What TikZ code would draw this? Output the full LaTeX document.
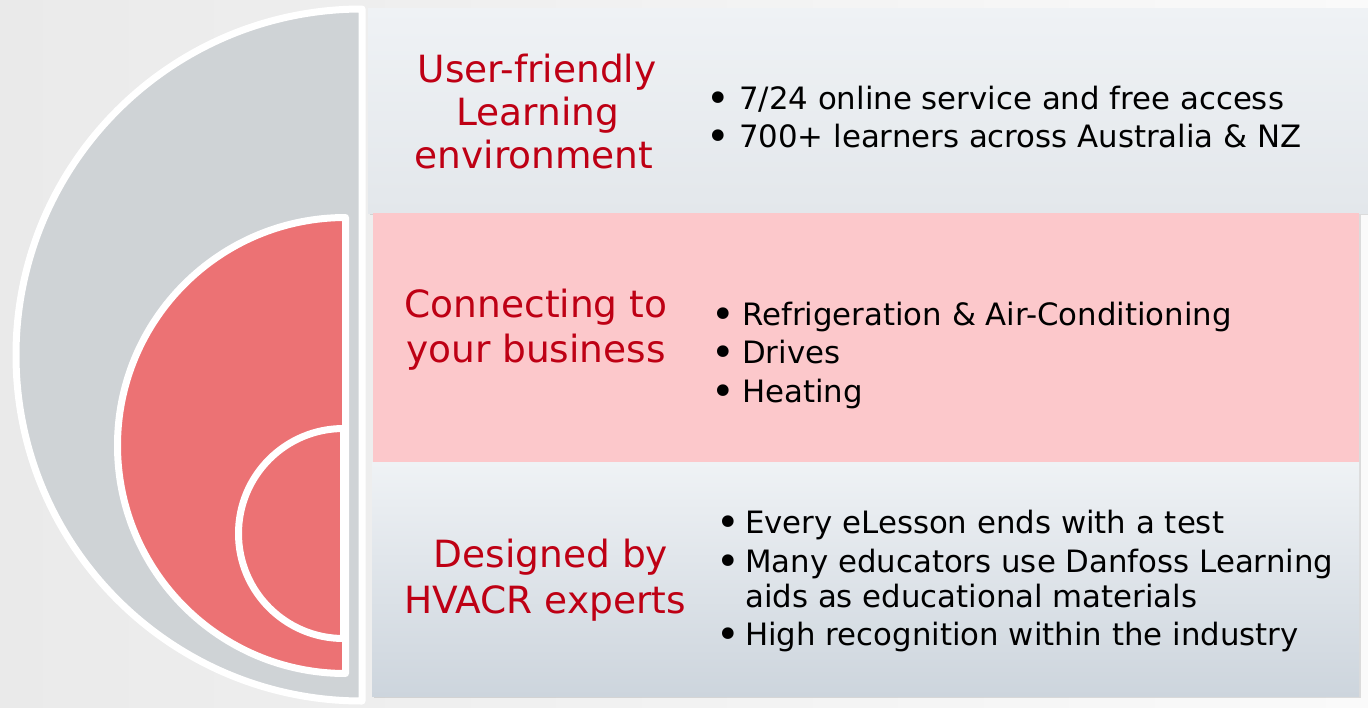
\documentclass[tikz,border=0pt]{standalone}
\usepackage{fontspec}
\setmainfont{DejaVu Sans}
\usetikzlibrary{shadows}
\definecolor{danred}{RGB}{190,0,20}
\definecolor{discgray}{RGB}{207,211,214}
\definecolor{discred}{RGB}{236,114,116}
\definecolor{pinkrow}{RGB}{252,200,203}
\definecolor{rowtop}{RGB}{239,242,245}
\definecolor{rowmid}{RGB}{227,231,235}
\definecolor{rowbot}{RGB}{205,213,221}
\definecolor{bgA}{RGB}{234,234,234}
\definecolor{bgB}{RGB}{250,250,250}
\tikzset{
  halfdisc/.style={draw=white, line width=7pt, line join=round,
    drop shadow={shadow xshift=1.5pt, shadow yshift=-1.5pt, opacity=0.25}},
  panel/.style={drop shadow={shadow xshift=2pt, shadow yshift=-2pt, opacity=0.25}},
  title/.style={text=danred, font=\fontsize{37.5}{43}\selectfont, anchor=base, inner sep=0pt},
  bul/.style={font=\fontsize{40}{40}\selectfont, anchor=base, inner sep=0pt, yshift=-3pt},
  item/.style={font=\fontsize{30.8}{38}\selectfont, anchor=base west, inner sep=0pt}
}
\begin{document}
\begin{tikzpicture}[x=1pt,y=-1pt]
\useasboundingbox (0,0) rectangle (1368,707);
% background
\shade[left color=bgA, right color=bgB] (0,0) rectangle (1368,707);
% half discs
\path[halfdisc, fill=discgray] (362,9) arc[start angle=270, end angle=90, radius=346] -- cycle;
\path[halfdisc, fill=discred] (345.5,217.5) arc[start angle=270, end angle=90, radius=228] -- cycle;
\path[halfdisc, fill=discred] (343.5,428.5) arc[start angle=270, end angle=90, radius=105] -- cycle;
% panels
\shade[panel, top color=rowtop, bottom color=rowmid] (368,8) rectangle (1370,213);
\fill[panel, pinkrow] (373,213) rectangle (1359,462);
\shade[panel, top color=rowtop, bottom color=rowbot] (372,462) rectangle (1359,696);
% titles
\node[title] (t1a) at (537,82) {User-friendly};
\node[title] (t1b) at (538,125) {Learning};
\node[title] (t1c) at (534,168) {environment};
\node[title] (t2a) at (536,317) {Connecting to};
\node[title] (t2b) at (536,362) {your business};
\node[title] (t3a) at (551,567) {Designed by};
\node[title] (t3b) at (545,613) {HVACR experts};
% bullets row 1
\node[bul] (b1a) at (718,109) {•};
\node[item] (i1a) at (739,109) {7/24 online service and free access};
\node[bul] (b1b) at (718,147) {•};
\node[item] (i1b) at (739,147) {700+ learners across Australia \& NZ};
% bullets row 2
\node[bul] (b2a) at (723,325) {•};
\node[item] (i2a) at (742,325) {Refrigeration \& Air-Conditioning};
\node[bul] (b2b) at (723,363) {•};
\node[item] (i2b) at (742,363) {Drives};
\node[bul] (b2c) at (723,402) {•};
\node[item] (i2c) at (742,402) {Heating};
% bullets row 3
\node[bul] (b3a) at (728,533) {•};
\node[item] (i3a) at (745,533) {Every eLesson ends with a test};
\node[bul] (b3b) at (728,572) {•};
\node[item] (i3b) at (745,572) {Many educators use Danfoss Learning};
\node[item] (i3c) at (745,607) {aids as educational materials};
\node[bul] (b3d) at (728,645) {•};
\node[item] (i3d) at (745,645) {High recognition within the industry};
\end{tikzpicture}
\end{document}
